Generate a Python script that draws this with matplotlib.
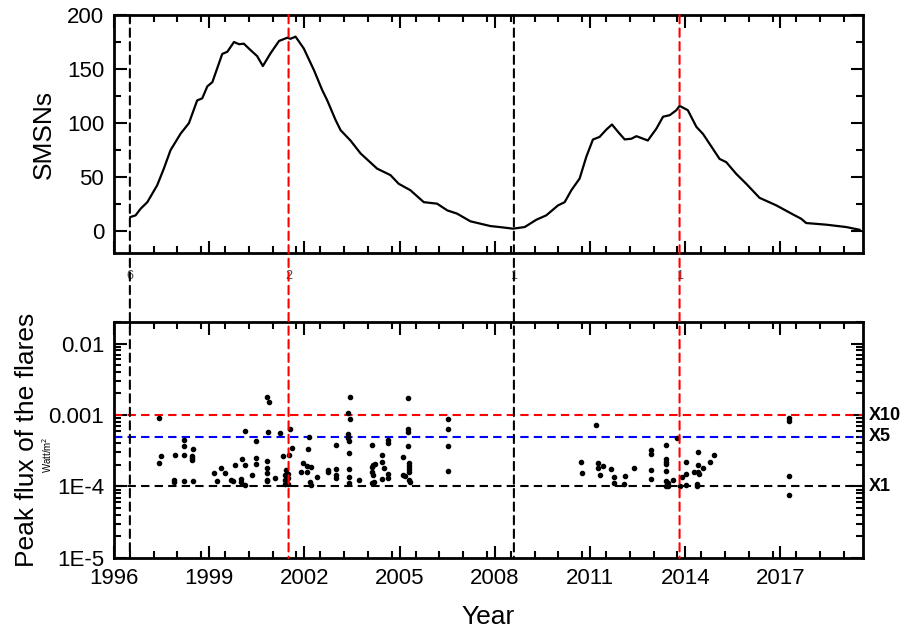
import matplotlib
matplotlib.use("Agg")
import matplotlib.pyplot as plt
from matplotlib.patches import ConnectionPatch
from matplotlib.ticker import FixedLocator, MultipleLocator, LogLocator, NullFormatter

plt.rcParams["font.family"] = ["Liberation Sans", "DejaVu Sans"]

# smoothed monthly sunspot number
ssn_year = [1996.52, 1996.68, 1996.84, 1997.05, 1997.36, 1997.57, 1997.78, 1998.10, 1998.36,
            1998.62, 1998.78, 1998.94, 1999.10, 1999.41, 1999.57, 1999.78, 1999.94, 2000.09,
            2000.30, 2000.51, 2000.69, 2000.93, 2001.20, 2001.46, 2001.56, 2001.72, 2001.98,
            2002.30, 2002.56, 2002.72, 2002.98, 2003.14, 2003.45, 2003.77, 2004.29, 2004.71,
            2004.97, 2005.34, 2005.76, 2006.18, 2006.50, 2006.81, 2007.23, 2007.86, 2008.15,
            2008.57, 2008.94, 2009.31, 2009.62, 2009.99, 2010.20, 2010.41, 2010.67, 2010.88,
            2011.09, 2011.30, 2011.51, 2011.69, 2011.88, 2012.09, 2012.30, 2012.46, 2012.82,
            2013.09, 2013.30, 2013.51, 2013.72, 2013.82, 2014.08, 2014.35, 2014.56, 2015.08,
            2015.29, 2015.61, 2015.92, 2016.34, 2016.87, 2017.39, 2017.65, 2017.81, 2018.44,
            2019.07, 2019.49]
ssn_value = [13.3, 14.8, 21, 27, 42.6, 58, 75, 90.4, 100,
             121, 123, 134, 138, 164, 166, 175, 173, 173.5,
             167.6, 162, 152.8, 164.5, 176, 179, 178, 180, 169,
             149, 130.6, 121, 103, 93.5, 84, 72, 58, 52,
             44, 38, 27, 25.6, 19.4, 16.4, 9.3, 4.9, 4,
             2.5, 4, 10.8, 14.8, 24, 27, 38, 48.8, 68.8,
             84.9, 87.3, 94, 98.8, 92, 85, 85.6, 88, 84,
             95, 106, 107.4, 112, 116, 112, 96.6, 90, 67,
             64, 53, 44, 31, 24, 15.7, 11.7, 7.7, 6.2,
             4, 1.5]

# X-class flares: date (decimal year) and peak flux (W/m^2)
flare_year = [2000.83, 2000.87, 1997.43, 2000.12, 2000.84, 2001.23, 1998.21, 2000.48, 1998.21,
              1998.49, 1997.49, 1997.92, 1998.21, 1998.47, 1998.47, 1998.47, 2001.33, 1997.43,
              2000.02, 2000.48, 2000.48, 1999.37, 1999.81, 2000.12, 2000.83, 2000.83, 1999.16,
              1999.49, 2000.34, 2000.83, 2001.41, 2001.38, 1997.89, 1997.89, 1998.21, 1998.48,
              1999.23, 1999.68, 1999.76, 2000.00, 2000.00, 2000.12, 2000.83, 2000.83, 2001.07,
              2001.38, 2001.38,
              2003.43, 2005.27, 2003.38, 2003.43, 2001.54, 2005.27, 2005.27, 2003.38, 2002.14,
              2003.38, 2004.64, 2004.64, 2001.61, 2002.12, 2002.99, 2003.41, 2004.12, 2005.27,
              2001.51, 2003.41, 2004.44, 2005.11, 2001.96, 2002.09, 2002.21, 2002.75, 2002.99,
              2003.41, 2004.16, 2004.22, 2004.43, 2004.51, 2005.29, 2005.29, 2005.29, 2005.29,
              2001.89, 2002.09, 2002.75, 2002.99, 2004.13, 2004.13, 2004.64, 2005.11, 2005.16,
              2002.41, 2002.99, 2003.41, 2003.72, 2004.16, 2004.43, 2004.64, 2005.29, 2005.32,
              2002.17, 2002.22, 2001.49, 2001.49, 2001.49, 2003.41, 2004.13, 2004.20,
              2006.53, 2006.53, 2006.53, 2006.53,
              2011.18, 2013.74, 2013.40, 2012.93, 2012.93, 2014.39, 2013.40, 2013.40, 2013.40,
              2010.70, 2011.25, 2011.25, 2011.41, 2014.01, 2014.77, 2014.39, 2014.56, 2012.38,
              2011.65, 2012.93, 2013.40, 2010.76, 2011.30, 2014.26, 2014.40, 2014.43, 2014.01,
              2012.10, 2011.75, 2013.89, 2012.93, 2013.61, 2011.75, 2012.08, 2013.40, 2013.45,
              2013.40, 2013.45, 2014.03, 2014.38, 2014.38, 2013.82, 2014.91,
              2017.26, 2017.26, 2017.26, 2017.26]
flare_flux = [1.77e-3, 1.52e-3, 9.2e-4, 5.9e-4, 5.85e-4, 5.6e-4, 4.5e-4, 4.3e-4, 3.65e-4,
              3.35e-4, 2.66e-4, 2.72e-4, 2.8e-4, 2.68e-4, 2.52e-4, 2.36e-4, 2.66e-4, 2.11e-4,
              2.42e-4, 2.52e-4, 2.08e-4, 1.82e-4, 2.0e-4, 2.02e-4, 2.27e-4, 1.8e-4, 1.54e-4,
              1.52e-4, 1.43e-4, 1.52e-4, 1.71e-4, 1.46e-4, 1.25e-4, 1.16e-4, 1.18e-4, 1.18e-4,
              1.2e-4, 1.25e-4, 1.2e-4, 1.27e-4, 1.16e-4, 1.06e-4, 1.25e-4, 1.18e-4, 1.31e-4,
              1.25e-4, 1.09e-4,
              1.77e-3, 1.74e-3, 1.05e-3, 8.9e-4, 6.4e-4, 6.4e-4, 5.75e-4, 5.5e-4, 5.0e-4,
              4.8e-4, 4.5e-4, 4.05e-4, 3.45e-4, 3.35e-4, 3.85e-4, 4.3e-4, 3.76e-4, 3.7e-4,
              2.8e-4, 2.95e-4, 2.74e-4, 2.6e-4, 2.11e-4, 1.94e-4, 1.9e-4, 1.71e-4, 1.75e-4,
              1.76e-4, 2.0e-4, 2.07e-4, 2.18e-4, 1.8e-4, 2.15e-4, 1.94e-4, 1.75e-4, 1.57e-4,
              1.6e-4, 1.62e-4, 1.59e-4, 1.46e-4, 1.88e-4, 1.62e-4, 1.49e-4, 1.46e-4, 1.38e-4,
              1.34e-4, 1.31e-4, 1.34e-4, 1.22e-4, 1.43e-4, 1.29e-4, 1.31e-4, 1.25e-4, 1.16e-4,
              1.16e-4, 1.06e-4, 1.5e-4, 1.31e-4, 1.1e-4, 1.12e-4, 1.12e-4, 1.16e-4,
              8.9e-4, 6.4e-4, 3.7e-4, 1.66e-4,
              7.2e-4, 4.8e-4, 3.76e-4, 3.2e-4, 2.83e-4, 3.05e-4, 2.42e-4, 2.22e-4, 2.05e-4,
              2.22e-4, 2.11e-4, 1.8e-4, 1.96e-4, 2.22e-4, 2.18e-4, 2.0e-4, 1.84e-4, 1.8e-4,
              1.75e-4, 1.71e-4, 1.67e-4, 1.54e-4, 1.45e-4, 1.62e-4, 1.62e-4, 1.5e-4, 1.5e-4,
              1.38e-4, 1.34e-4, 1.34e-4, 1.27e-4, 1.25e-4, 1.13e-4, 1.09e-4, 1.18e-4, 1.12e-4,
              1.03e-4, 1.03e-4, 1.04e-4, 1.09e-4, 1.03e-4, 1.0e-4, 2.74e-4,
              9.0e-4, 8.3e-4, 1.38e-4, 7.6e-5]

# solar minima (black) and maxima (red)
cycle_year = [1996.5, 2001.5, 2008.6, 2013.82]
cycle_color = ["black", "red", "black", "red"]
cycle_tag = ["6", "2", "1", "1"]

# X-class thresholds
class_flux = [1e-3, 5e-4, 1e-4]
class_color = ["red", "blue", "black"]
class_label = ["X10", "X5", "X1"]

year_ticks = [1996, 1999, 2002, 2005, 2008, 2011, 2014, 2017]
flux_ticks = [1e-5, 1e-4, 1e-3, 1e-2]
flux_tick_labels = ["1E-5", "1E-4", "0.001", "0.01"]

fig = plt.figure(figsize=(9.07, 6.3), dpi=100)
ax1 = fig.add_axes([0.1257, 0.5984, 0.8258, 0.3778])
ax2 = fig.add_axes([0.1257, 0.1143, 0.8258, 0.3746])

dash = (0, (4, 2.5))

ax1.plot(ssn_year, ssn_value, color="black", linewidth=1.6)
ax1.set_xlim(1996, 2019.6)
ax1.set_ylim(-20, 200)
ax1.yaxis.set_major_locator(MultipleLocator(50))
ax1.yaxis.set_minor_locator(MultipleLocator(25))
ax1.set_ylabel("SMSNs", fontsize=19, labelpad=8)
ax1.tick_params(labelbottom=False)

ax2.scatter(flare_year, flare_flux, s=9, color="black", zorder=3)
ax2.set_yscale("log")
ax2.set_xlim(1996, 2019.6)
ax2.set_ylim(1e-5, 0.02)
ax2.yaxis.set_major_locator(FixedLocator(flux_ticks))
ax2.set_yticklabels(flux_tick_labels)
ax2.yaxis.set_minor_locator(LogLocator(base=10, subs=range(2, 10)))
ax2.yaxis.set_minor_formatter(NullFormatter())
ax2.set_xticks(year_ticks)
ax2.set_xticklabels([str(y) for y in year_ticks])
ax2.set_xlabel("Year", fontsize=19, labelpad=12)
for flux, color, label in zip(class_flux, class_color, class_label):
    ax2.axhline(flux, color=color, linestyle=dash, linewidth=1.5, zorder=2)
    ax2.text(1.008, flux, label, transform=ax2.get_yaxis_transform(), fontsize=13,
             fontweight="bold", va="center", ha="left")

for ax in (ax1, ax2):
    ax.xaxis.set_major_locator(FixedLocator(year_ticks))
    ax.xaxis.set_minor_locator(MultipleLocator(0.75))
    ax.tick_params(which="both", direction="in", top=True, right=True, width=1.5, labelsize=16)
    ax.tick_params(which="major", length=9, pad=7)
    ax.tick_params(which="minor", length=5)
    for spine in ax.spines.values():
        spine.set_linewidth(2)

# cycle markers run through both panels
for year, color, tag in zip(cycle_year, cycle_color, cycle_tag):
    con = ConnectionPatch(xyA=(year, 200), coordsA="data", axesA=ax1,
                          xyB=(year, 1e-5), coordsB="data", axesB=ax2,
                          color=color, linestyle=dash, linewidth=1.5)
    fig.add_artist(con)
    ax1.text(year, -0.07, tag, transform=ax1.get_xaxis_transform(), fontsize=9,
             color="#444444", ha="center", va="top")

fig.text(0.030, 0.302, "Peak flux of the flares", rotation=90, fontsize=19,
         ha="center", va="center")
fig.text(0.052, 0.278, "Watt/m$^2$", rotation=90, fontsize=7, ha="center", va="center")

fig.savefig("out.png", dpi=100)
